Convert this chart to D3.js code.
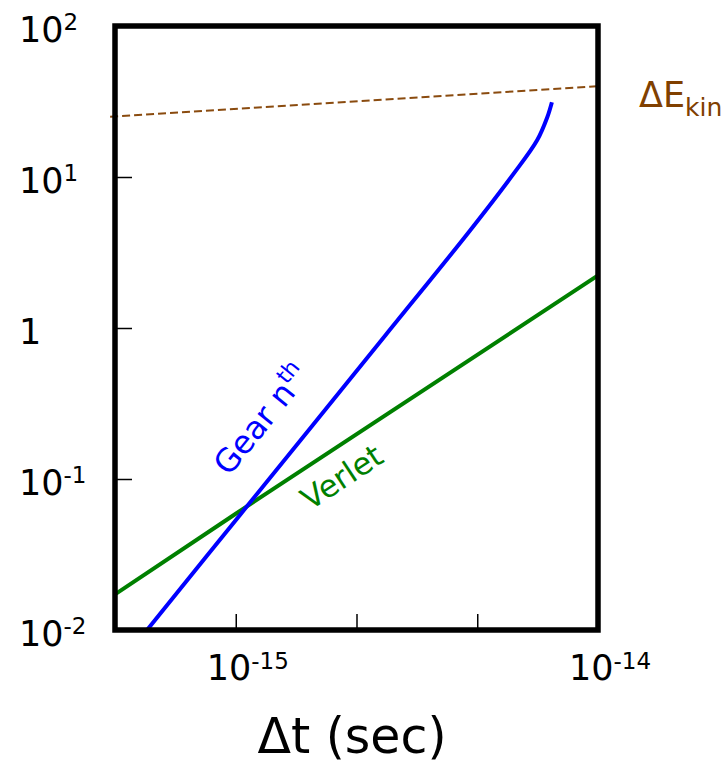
<!DOCTYPE html>
<html lang="en">
<head>
    <meta charset="utf-8">
    <title>Energy error vs time step</title>
    <script type="text/javascript" src="https://d3js.org/d3.v7.min.js"></script>
    <style type="text/css">
        body { margin: 0; background: #fff; }
        svg { font-family: "DejaVu Sans", Verdana, sans-serif; }
    </style>
</head>
<body>
<script type="text/javascript">

    // Gear (higher order) energy error
    var gearDt = [5.69e-16, 1.03e-15, 2.59e-15, 4.44e-15, 5.83e-15, 6.79e-15, 7.24e-15, 7.46e-15];
    var gearE  = [0.01, 0.0583, 0.895, 4.44, 10.4, 17.5, 24.8, 31.3];

    // Verlet energy error
    var verletDt = [4.64e-16, 1e-15, 1e-14];
    var verletE  = [0.0172, 0.0589, 2.23];

    // kinetic energy reference (dashed)
    var kinDt = [4.5e-16, 1e-14];
    var kinE  = [25.1, 39.9];

    var yTicks = [1e-2, 1e-1, 1, 1e1, 1e2];
    var yTickLabels = [["10", "-2"], ["10", "-1"], ["1", ""], ["10", "1"], ["10", "2"]];
    var xTicks = [1e-15, Math.pow(10, -15 + 1 / 3), Math.pow(10, -15 + 2 / 3)];
    var xLabelVals = [1e-15, 1e-14];
    var xLabels = [["10", "-15"], ["10", "-14"]];

    var width = 727, height = 764;
    var pLeft = 115, pRight = 598, pTop = 26, pBottom = 630;

    var x = d3.scaleLog()
        .domain([Math.pow(10, -15 - 1 / 3), 1e-14])
        .range([pLeft, pRight]);

    var y = d3.scaleLog()
        .domain([1e-2, 1e2])
        .range([pBottom, pTop]);

    var svg = d3.select("body")
        .append("svg")
        .attr("width", width)
        .attr("height", height);

    svg.append("clipPath")
        .attr("id", "plot")
        .append("rect")
        .attr("x", pLeft).attr("y", pTop)
        .attr("width", pRight - pLeft).attr("height", pBottom - pTop);

    // inward ticks
    svg.append("g")
        .attr("transform", "translate(" + pLeft + ",0)")
        .call(d3.axisRight(y).tickValues([1e-1, 1, 1e1]).tickSize(17).tickFormat(""))
        .call(function(g) { g.select(".domain").remove(); })
        .selectAll("line").attr("stroke-width", 1.5);

    svg.append("g")
        .attr("transform", "translate(0," + pBottom + ")")
        .call(d3.axisTop(x).tickValues(xTicks).tickSize(16).tickFormat(""))
        .call(function(g) { g.select(".domain").remove(); })
        .selectAll("line").attr("stroke-width", 1.5);

    var line = d3.line()
        .x(function(d) { return x(d[0]); })
        .y(function(d) { return y(d[1]); });

    svg.append("path")
        .datum(d3.zip(verletDt, verletE))
        .attr("clip-path", "url(#plot)")
        .attr("d", line)
        .attr("fill", "none")
        .attr("stroke", "#008000")
        .attr("stroke-width", 4);

    svg.append("path")
        .datum(d3.zip(gearDt, gearE))
        .attr("clip-path", "url(#plot)")
        .attr("d", line.curve(d3.curveCatmullRom.alpha(0.5)))
        .attr("fill", "none")
        .attr("stroke", "#0000ff")
        .attr("stroke-width", 4);

    svg.append("path")
        .datum(d3.zip(kinDt, kinE))
        .attr("d", line.curve(d3.curveLinear))
        .attr("fill", "none")
        .attr("stroke", "#8a4b0f")
        .attr("stroke-width", 2)
        .attr("stroke-dasharray", "8,4");

    // frame
    svg.append("rect")
        .attr("x", pLeft).attr("y", pTop)
        .attr("width", pRight - pLeft).attr("height", pBottom - pTop)
        .attr("fill", "none")
        .attr("stroke", "#000")
        .attr("stroke-width", 5.5);

    // y tick labels
    var yl = svg.append("g").selectAll("text")
        .data(yTicks)
        .enter()
        .append("text")
        .attr("x", 19)
        .attr("y", function(d) { return y(d) + 15.5; })
        .attr("font-size", 35);
    yl.append("tspan").text(function(d, i) { return yTickLabels[i][0]; });
    yl.append("tspan")
        .attr("font-size", 23)
        .attr("dy", -12)
        .text(function(d, i) { return yTickLabels[i][1]; });

    // x tick labels
    var xl = svg.append("g").selectAll("text")
        .data(xLabelVals)
        .enter()
        .append("text")
        .attr("x", function(d) { return x(d) - 29; })
        .attr("y", pBottom + 50)
        .attr("font-size", 35);
    xl.append("tspan").text(function(d, i) { return xLabels[i][0]; });
    xl.append("tspan")
        .attr("font-size", 23)
        .attr("dy", -11)
        .text(function(d, i) { return xLabels[i][1]; });

    // axis title
    svg.append("text")
        .attr("x", 352)
        .attr("y", 753)
        .attr("text-anchor", "middle")
        .attr("font-size", 49)
        .text("\u0394t (sec)");

    // series labels
    var g1 = svg.append("text")
        .attr("transform", "translate(229,477) rotate(-51)")
        .attr("font-size", 32)
        .attr("fill", "#0000ff");
    g1.append("tspan").text("Gear n");
    g1.append("tspan").attr("font-size", 22).attr("dy", -13).text("th");

    svg.append("text")
        .attr("transform", "translate(310,511) rotate(-33.4)")
        .attr("font-size", 31)
        .attr("fill", "#008000")
        .text("Verlet");

    var k = svg.append("text")
        .attr("x", 639)
        .attr("y", 107)
        .attr("font-size", 35)
        .attr("fill", "#804000");
    k.append("tspan").text("\u0394E");
    k.append("tspan").attr("font-size", 25).attr("dy", 9).text("kin");

</script>
</body>
</html>
